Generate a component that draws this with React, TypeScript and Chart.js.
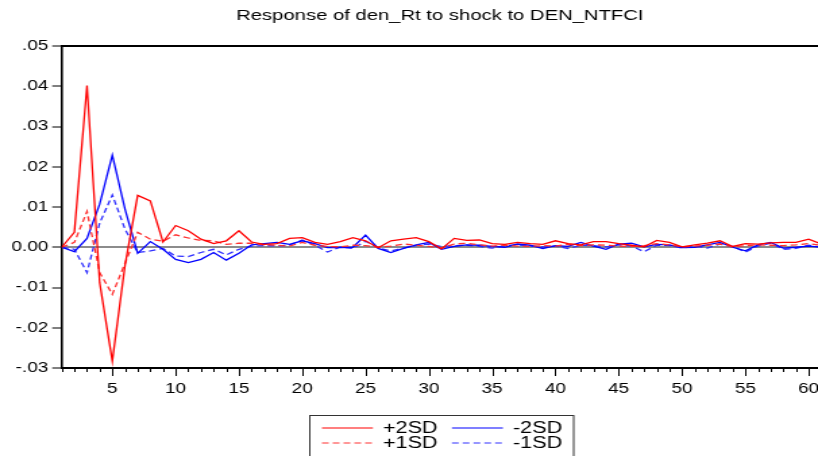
import React, { useEffect, useRef } from 'react';
import { Chart, registerables } from 'chart.js';

Chart.register(...registerables);

// ---- data ----
const periods = [
  1, 2, 3, 4, 5, 6, 7, 8, 9, 10, 11, 12, 13, 14, 15, 16, 17, 18, 19, 20,
  21, 22, 23, 24, 25, 26, 27, 28, 29, 30, 31, 32, 33, 34, 35, 36, 37, 38, 39, 40,
  41, 42, 43, 44, 45, 46, 47, 48, 49, 50, 51, 52, 53, 54, 55, 56, 57, 58, 59, 60, 61,
];

const plus2SD = [
  0, 0.0037, 0.0402, -0.0088, -0.0283, -0.0045, 0.0129, 0.0115, 0.0013, 0.0054,
  0.0041, 0.002, 0.0009, 0.0016, 0.0041, 0.0013, 0.0007, 0.0009, 0.0022, 0.0024,
  0.0012, 0.0007, 0.0014, 0.0024, 0.0016, -0.0001, 0.0016, 0.002, 0.0024, 0.0014,
  -0.0004, 0.0022, 0.0017, 0.0018, 0.0009, 0.0007, 0.0012, 0.0009, 0.0007, 0.0016,
  0.0009, 0.0006, 0.0014, 0.0014, 0.0009, 0.0005, 0.0001, 0.0017, 0.0012, 0.0001,
  0.0006, 0.001, 0.0016, 0.0002, 0.0009, 0.0008, 0.0011, 0.0012, 0.0012, 0.002, 0.0008,
];

const plus1SD = [
  0, 0.0012, 0.0089, -0.0063, -0.0117, -0.004, 0.0037, 0.002, 0.0015, 0.0031,
  0.0023, 0.0017, 0.0016, 0.0007, 0.001, 0.001, 0.0006, 0.0005, 0.0003, 0.0012,
  0.0005, 0.0002, 0.0001, 0.0005, 0.0004, 0, 0.0003, 0.0008, 0.0005, 0.0002,
  -0.0002, 0.0008, 0.001, 0.0006, 0.0003, 0.0005, 0.0003, 0.0002, 0.0004, 0.0003,
  0.0007, 0.0004, 0.0006, 0.0005, 0.0003, 0.0002, 0.0004, 0.0009, 0.0006, 0.0001,
  0.0003, 0.0005, 0.0008, 0.0001, 0.0004, 0.0006, 0.0005, 0.0004, 0.0006, 0.0009, 0.0005,
];

const minus2SD = [
  0, -0.0011, 0.0022, 0.0107, 0.0229, 0.0095, -0.0015, 0.0014, -0.0005, -0.003,
  -0.0038, -0.003, -0.0013, -0.0032, -0.0015, 0.0006, 0.0009, 0.0012, 0.0007, 0.0016,
  0.0009, -0.0001, -0.0001, 0, 0.003, -0.0003, -0.0013, -0.0003, 0.0006, 0.0012,
  -0.0005, 0.0002, 0.0006, 0.0005, 0.0002, 0, 0.0008, 0.0005, -0.0003, 0.0004,
  0.0002, 0.0012, 0.0003, -0.0005, 0.0008, 0.001, 0.0001, 0.0007, 0.0006, -0.0001,
  0, 0.0006, 0.0012, 0, -0.0009, 0.0006, 0.0012, -0.0002, 0, 0.0003, 0,
];

const minus1SD = [
  0, -0.0005, -0.0063, 0.006, 0.013, 0.0045, -0.0013, -0.0009, -0.0003, -0.0022,
  -0.0023, -0.0013, -0.0005, -0.0019, -0.0005, 0.0003, 0.0004, 0.0003, 0.0005, 0.0018,
  0.0005, -0.0012, 0.0001, -0.0003, 0.0015, -0.0002, -0.0009, -0.0002, 0.0004, 0.0008,
  0.0002, 0.0004, 0.0005, 0.0002, -0.0002, 0.0004, 0.0006, 0.0003, 0.0001, 0.0003,
  -0.0003, 0.0005, 0.0004, 0.0001, 0.0006, 0.0003, -0.0011, 0.0005, 0.0004, -0.0002,
  0.0003, -0.0002, 0.0008, 0.0002, -0.0012, 0.0003, 0.001, -0.0005, -0.0003, 0.0005, 0,
];

const seriesLabels = ['+2SD', '+1SD', '-2SD', '-1SD'];
const chartTitle = 'Response of den_Rt to shock to DEN_NTFCI';
const labelledPeriods = [5, 10, 15, 20, 25, 30, 35, 40, 45, 50, 55, 60];

// ---- geometry (canvas is drawn narrow and stretched horizontally, like the source) ----
const PAGE_W = 818;
const PAGE_H = 456;
const STRETCH = 1.35;
const CANVAS_W = Math.round(PAGE_W / STRETCH);
const FONT = '"Liberation Sans", Arial, Helvetica, sans-serif';

const toPoints = (vals: number[]) => periods.map((p, i) => ({ x: p, y: vals[i] }));

const fmtY = (v: number) => {
  if (Math.abs(v) < 1e-9) return '0.00';
  const s = Math.abs(v).toFixed(2).replace(/^0/, '');
  return v < 0 ? '-' + s : s;
};

const decorPlugin = {
  id: 'decor',
  afterDraw(chart: any) {
    const { ctx, chartArea: a, scales } = chart;
    const xs = scales.x;
    ctx.save();
    // top frame line
    ctx.strokeStyle = '#000';
    ctx.lineWidth = 2;
    ctx.beginPath();
    ctx.moveTo(a.left, a.top);
    ctx.lineTo(a.right, a.top);
    ctx.stroke();
    // x tick marks
    ctx.lineWidth = 1;
    periods.forEach((p) => {
      if (p > 60) return;
      const px = Math.round(xs.getPixelForValue(p)) + 0.5;
      const len = labelledPeriods.includes(p) ? 8 : 4;
      ctx.beginPath();
      ctx.moveTo(px, a.bottom);
      ctx.lineTo(px, a.bottom + len);
      ctx.stroke();
    });
    // title
    ctx.fillStyle = '#000';
    ctx.font = `15px ${FONT}`;
    ctx.textAlign = 'center';
    ctx.textBaseline = 'middle';
    ctx.fillText(chartTitle, (a.left + a.right) / 2, 16);
    // legend
    const boxL = 229;
    const boxR = 424.5;
    const boxT = 415;
    ctx.strokeStyle = '#333';
    ctx.lineWidth = 1;
    ctx.strokeRect(boxL + 0.5, boxT + 0.5, boxR - boxL, 60);
    const cols = [
      { lx: 238.5, tx: 283.7 },
      { lx: 334.8, tx: 380 },
    ];
    const rows = [428, 443];
    const place = [
      [0, 0],
      [0, 1],
      [1, 0],
      [1, 1],
    ]; // [col,row] per dataset
    chart.data.datasets.forEach((ds: any, i: number) => {
      const [c, r] = place[i];
      const y = rows[r];
      ctx.strokeStyle = ds.borderColor;
      ctx.lineWidth = 1.2;
      ctx.setLineDash(ds.borderDash || []);
      ctx.beginPath();
      ctx.moveTo(cols[c].lx, y);
      ctx.lineTo(cols[c].lx + 37.8, y);
      ctx.stroke();
      ctx.setLineDash([]);
      ctx.fillStyle = '#000';
      ctx.font = `16px ${FONT}`;
      ctx.textAlign = 'left';
      ctx.textBaseline = 'middle';
      ctx.fillText(ds.label, cols[c].tx, y + 1);
    });
    ctx.restore();
  },
};

export default function App() {
  const ref = useRef<HTMLCanvasElement | null>(null);

  useEffect(() => {
    if (!ref.current) return;
    const chart = new Chart(ref.current, {
      type: 'line',
      data: {
        datasets: [
          {
            label: seriesLabels[0],
            data: toPoints(plus2SD),
            borderColor: '#ff0000',
            borderWidth: 1.3,
            pointRadius: 0,
            tension: 0,
          },
          {
            label: seriesLabels[1],
            data: toPoints(plus1SD),
            borderColor: '#ff3030',
            borderWidth: 1.3,
            borderDash: [5, 3],
            pointRadius: 0,
            tension: 0,
          },
          {
            label: seriesLabels[2],
            data: toPoints(minus2SD),
            borderColor: '#0000ff',
            borderWidth: 1.3,
            pointRadius: 0,
            tension: 0,
          },
          {
            label: seriesLabels[3],
            data: toPoints(minus1SD),
            borderColor: '#3030ff',
            borderWidth: 1.3,
            borderDash: [5, 3],
            pointRadius: 0,
            tension: 0,
          },
        ],
      },
      options: {
        responsive: false,
        animation: false,
        devicePixelRatio: 1,
        layout: { padding: { top: 46, left: 0, right: 0, bottom: 58 } },
        plugins: {
          legend: { display: false },
          title: { display: false },
          tooltip: { enabled: false },
        },
        scales: {
          x: {
            type: 'linear',
            min: 1,
            max: 60.74,
            grid: { display: false, drawTicks: false },
            border: { display: true, color: '#000', width: 2 },
            ticks: {
              stepSize: 1,
              autoSkip: false,
              includeBounds: false,
              maxRotation: 0,
              padding: 13,
              color: '#000',
              font: { family: FONT, size: 14 },
              callback: (v: any) => (labelledPeriods.includes(Number(v)) ? String(v) : ''),
            },
            afterFit: (s: any) => {
              s.height = 30;
              s.paddingRight = 0;
              s.paddingLeft = 0;
            },
          },
          y: {
            min: -0.03,
            max: 0.05,
            grid: {
              drawOnChartArea: true,
              drawTicks: true,
              tickLength: 7,
              tickColor: '#000',
              tickWidth: 1,
              lineWidth: 2,
              color: (c: any) =>
                c.tick && Math.abs(c.tick.value) < 1e-9 ? '#8c8c8c' : 'rgba(0,0,0,0)',
            },
            border: { display: true, color: '#000', width: 1.6 },
            ticks: {
              stepSize: 0.01,
              padding: 3,
              color: '#000',
              font: { family: FONT, size: 14 },
              callback: (v: any) => fmtY(Number(v)),
            },
            afterFit: (s: any) => {
              s.width = 45.7;
            },
          },
        },
      },
      plugins: [decorPlugin],
    } as any);
    return () => chart.destroy();
  }, []);

  return (
    <div style={{ position: 'absolute', left: 0, top: 0, width: PAGE_W, height: PAGE_H, background: '#fff' }}>
      <canvas
        ref={ref}
        width={CANVAS_W}
        height={PAGE_H}
        style={{ width: PAGE_W, height: PAGE_H, display: 'block' }}
      />
    </div>
  );
}
